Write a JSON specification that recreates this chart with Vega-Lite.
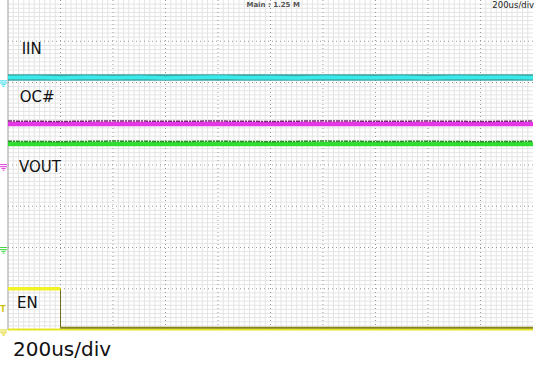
{
  "$schema": "https://vega.github.io/schema/vega-lite/v6.json",
  "width": 525,
  "height": 330,
  "autosize": {"type": "none"},
  "padding": {"left": 8, "top": 0, "right": 1, "bottom": 35},
  "background": "white",
  "config": {"view": {"stroke": null}, "axis": {"labels": false, "ticks": false, "domain": false, "grid": false}},
  "datasets": {
    "minorx": [{"t":0},{"t":0.1},{"t":0.2},{"t":0.3},{"t":0.4},{"t":0.5},{"t":0.6},{"t":0.7},{"t":0.8},{"t":0.9},{"t":1.1},{"t":1.2},{"t":1.3},{"t":1.4},{"t":1.5},{"t":1.6},{"t":1.7},{"t":1.8},{"t":1.9},{"t":2.1},{"t":2.2},{"t":2.3},{"t":2.4},{"t":2.5},{"t":2.6},{"t":2.7},{"t":2.8},{"t":2.9},{"t":3.1},{"t":3.2},{"t":3.3},{"t":3.4},{"t":3.5},{"t":3.6},{"t":3.7},{"t":3.8},{"t":3.9},{"t":4.1},{"t":4.2},{"t":4.3},{"t":4.4},{"t":4.5},{"t":4.6},{"t":4.7},{"t":4.8},{"t":4.9},{"t":5.1},{"t":5.2},{"t":5.3},{"t":5.4},{"t":5.5},{"t":5.6},{"t":5.7},{"t":5.8},{"t":5.9},{"t":6.1},{"t":6.2},{"t":6.3},{"t":6.4},{"t":6.5},{"t":6.6},{"t":6.7},{"t":6.8},{"t":6.9},{"t":7.1},{"t":7.2},{"t":7.3},{"t":7.4},{"t":7.5},{"t":7.6},{"t":7.7},{"t":7.8},{"t":7.9},{"t":8.1},{"t":8.2},{"t":8.3},{"t":8.4},{"t":8.5},{"t":8.6},{"t":8.7},{"t":8.8},{"t":8.9},{"t":9.1},{"t":9.2},{"t":9.3},{"t":9.4},{"t":9.5},{"t":9.6},{"t":9.7},{"t":9.8},{"t":9.9}],
    "minory": [{"v":0.1},{"v":0.2},{"v":0.3},{"v":0.4},{"v":0.5},{"v":0.6},{"v":0.7},{"v":0.8},{"v":0.9},{"v":1.1},{"v":1.2},{"v":1.3},{"v":1.4},{"v":1.5},{"v":1.6},{"v":1.7},{"v":1.8},{"v":1.9},{"v":2.1},{"v":2.2},{"v":2.3},{"v":2.4},{"v":2.5},{"v":2.6},{"v":2.7},{"v":2.8},{"v":2.9},{"v":3.1},{"v":3.2},{"v":3.3},{"v":3.4},{"v":3.5},{"v":3.6},{"v":3.7},{"v":3.8},{"v":3.9},{"v":4.1},{"v":4.2},{"v":4.3},{"v":4.4},{"v":4.5},{"v":4.6},{"v":4.7},{"v":4.8},{"v":4.9},{"v":5.1},{"v":5.2},{"v":5.3},{"v":5.4},{"v":5.5},{"v":5.6},{"v":5.7},{"v":5.8},{"v":5.9},{"v":6.1},{"v":6.2},{"v":6.3},{"v":6.4},{"v":6.5},{"v":6.6},{"v":6.7},{"v":6.8},{"v":6.9},{"v":7.1},{"v":7.2},{"v":7.3},{"v":7.4},{"v":7.5},{"v":7.6},{"v":7.7},{"v":7.8},{"v":7.9}],
    "vgrid": [{"t": 1}, {"t": 2}, {"t": 3}, {"t": 4}, {"t": 5}, {"t": 6}, {"t": 7}, {"t": 8}, {"t": 9}],
    "hgrid": [{"v": 1}, {"v": 2}, {"v": 3}, {"v": 4}, {"v": 5}, {"v": 6}, {"v": 7}],
    "traces": [
      {"s": "IIN_base", "t": 0, "v": 6.12}, {"s": "IIN_base", "t": 10, "v": 6.12},
      {"s": "IIN", "t": 0, "v": 6.12}, {"s": "IIN", "t": 0.5, "v": 6.13}, {"s": "IIN", "t": 1, "v": 6.11}, {"s": "IIN", "t": 1.5, "v": 6.125}, {"s": "IIN", "t": 2, "v": 6.115}, {"s": "IIN", "t": 2.5, "v": 6.13}, {"s": "IIN", "t": 3, "v": 6.11}, {"s": "IIN", "t": 3.5, "v": 6.12}, {"s": "IIN", "t": 4, "v": 6.135}, {"s": "IIN", "t": 4.5, "v": 6.115}, {"s": "IIN", "t": 5, "v": 6.12}, {"s": "IIN", "t": 5.5, "v": 6.11}, {"s": "IIN", "t": 6, "v": 6.13}, {"s": "IIN", "t": 6.5, "v": 6.12}, {"s": "IIN", "t": 7, "v": 6.115}, {"s": "IIN", "t": 7.5, "v": 6.13}, {"s": "IIN", "t": 8, "v": 6.11}, {"s": "IIN", "t": 8.5, "v": 6.125}, {"s": "IIN", "t": 9, "v": 6.12}, {"s": "IIN", "t": 9.5, "v": 6.13}, {"s": "IIN", "t": 10, "v": 6.115},
      {"s": "OC_top", "t": 0, "v": 5.065}, {"s": "OC_top", "t": 1, "v": 5.055}, {"s": "OC_top", "t": 2, "v": 5.07}, {"s": "OC_top", "t": 3, "v": 5.06}, {"s": "OC_top", "t": 4, "v": 5.065}, {"s": "OC_top", "t": 5, "v": 5.055}, {"s": "OC_top", "t": 6, "v": 5.07}, {"s": "OC_top", "t": 7, "v": 5.06}, {"s": "OC_top", "t": 8, "v": 5.065}, {"s": "OC_top", "t": 9, "v": 5.055}, {"s": "OC_top", "t": 10, "v": 5.065},
      {"s": "OC", "t": 0, "v": 4.995}, {"s": "OC", "t": 10, "v": 4.995},
      {"s": "VOUT_top", "t": 0, "v": 4.575}, {"s": "VOUT_top", "t": 1, "v": 4.565}, {"s": "VOUT_top", "t": 2, "v": 4.58}, {"s": "VOUT_top", "t": 3, "v": 4.57}, {"s": "VOUT_top", "t": 4, "v": 4.575}, {"s": "VOUT_top", "t": 5, "v": 4.565}, {"s": "VOUT_top", "t": 6, "v": 4.58}, {"s": "VOUT_top", "t": 7, "v": 4.57}, {"s": "VOUT_top", "t": 8, "v": 4.575}, {"s": "VOUT_top", "t": 9, "v": 4.565}, {"s": "VOUT_top", "t": 10, "v": 4.575},
      {"s": "VOUT", "t": 0, "v": 4.51}, {"s": "VOUT", "t": 10, "v": 4.51},
      {"s": "EN_high", "t": 0, "v": 1.0}, {"s": "EN_high", "t": 1.0, "v": 1.0},
      {"s": "EN_edge", "t": 1.0, "v": 1.0}, {"s": "EN_edge", "t": 1.0, "v": 0.055},
      {"s": "EN_low", "t": 1.0, "v": 0.055}, {"s": "EN_low", "t": 10, "v": 0.055},
      {"s": "EN_base", "t": 0, "v": 0.012}, {"s": "EN_base", "t": 10, "v": 0.012}
    ],
    "labels": [
      {"text": "IIN", "t": 0.26, "v": 6.684},
      {"text": "OC#", "t": 0.225, "v": 5.535},
      {"text": "VOUT", "t": 0.21, "v": 3.84},
      {"text": "EN", "t": 0.17, "v": 0.533}
    ],
    "markers": [
      {"ch": "IIN", "t": -0.085, "v": 5.98},
      {"ch": "OC#", "t": -0.085, "v": 3.95},
      {"ch": "VOUT", "t": -0.085, "v": 1.94},
      {"ch": "EN", "t": -0.085, "v": -0.06}
    ]
  },
  "layer": [
    {
      "data": {"name": "minorx"},
      "mark": {"type": "rule", "color": "#e4e4e4", "strokeWidth": 1},
      "encoding": {"x": {"field": "t", "type": "quantitative", "axis": null, "scale": {"domain": [0, 10], "nice": false, "zero": false}}}
    },
    {
      "data": {"name": "minory"},
      "mark": {"type": "rule", "color": "#e4e4e4", "strokeWidth": 1},
      "encoding": {"y": {"field": "v", "type": "quantitative", "axis": null, "scale": {"domain": [0, 8], "nice": false, "zero": false}}}
    },
    {
      "data": {"name": "vgrid"},
      "mark": {"type": "rule", "color": "#9a9a9a", "strokeDash": [1, 3], "strokeWidth": 1},
      "encoding": {"x": {"field": "t", "type": "quantitative", "axis": null}}
    },
    {
      "data": {"name": "hgrid"},
      "mark": {"type": "rule", "color": "#9a9a9a", "strokeDash": [1, 3], "strokeWidth": 1},
      "encoding": {"y": {"field": "v", "type": "quantitative", "axis": null}}
    },
    {
      "data": {"values": [{"t": 0}]},
      "mark": {"type": "rule", "color": "#a8a8a8", "strokeWidth": 1},
      "encoding": {"x": {"field": "t", "type": "quantitative", "axis": null}}
    },
    {
      "data": {"name": "traces"},
      "transform": [{"filter": "datum.s === 'IIN_base'"}],
      "mark": {"type": "line", "color": "#1a9a9a", "strokeWidth": 6.5, "opacity": 0.85},
      "encoding": {"x": {"field": "t", "type": "quantitative", "axis": null}, "y": {"field": "v", "type": "quantitative", "axis": null}}
    },
    {
      "data": {"name": "traces"},
      "transform": [{"filter": "datum.s === 'IIN'"}],
      "mark": {"type": "line", "color": "#38eaea", "strokeWidth": 3.5},
      "encoding": {"x": {"field": "t", "type": "quantitative", "axis": null}, "y": {"field": "v", "type": "quantitative", "axis": null}}
    },
    {
      "data": {"name": "traces"},
      "transform": [{"filter": "datum.s === 'OC'"}],
      "mark": {"type": "line", "color": "#e436e4", "strokeWidth": 4.5},
      "encoding": {"x": {"field": "t", "type": "quantitative", "axis": null}, "y": {"field": "v", "type": "quantitative", "axis": null}}
    },
    {
      "data": {"name": "traces"},
      "transform": [{"filter": "datum.s === 'OC_top'"}],
      "mark": {"type": "line", "color": "#7a2a72", "strokeWidth": 1.5, "strokeDash": [4, 1, 2, 1]},
      "encoding": {"x": {"field": "t", "type": "quantitative", "axis": null}, "y": {"field": "v", "type": "quantitative", "axis": null}}
    },
    {
      "data": {"name": "traces"},
      "transform": [{"filter": "datum.s === 'VOUT'"}],
      "mark": {"type": "line", "color": "#30dd30", "strokeWidth": 4.5},
      "encoding": {"x": {"field": "t", "type": "quantitative", "axis": null}, "y": {"field": "v", "type": "quantitative", "axis": null}}
    },
    {
      "data": {"name": "traces"},
      "transform": [{"filter": "datum.s === 'VOUT_top'"}],
      "mark": {"type": "line", "color": "#2a8a2a", "strokeWidth": 1.5, "strokeDash": [4, 1, 2, 1]},
      "encoding": {"x": {"field": "t", "type": "quantitative", "axis": null}, "y": {"field": "v", "type": "quantitative", "axis": null}}
    },
    {
      "data": {"name": "traces"},
      "transform": [{"filter": "datum.s === 'EN_base'"}],
      "mark": {"type": "line", "color": "#e6e61e", "strokeWidth": 2},
      "encoding": {"x": {"field": "t", "type": "quantitative", "axis": null}, "y": {"field": "v", "type": "quantitative", "axis": null}}
    },
    {
      "data": {"name": "traces"},
      "transform": [{"filter": "datum.s === 'EN_low'"}],
      "mark": {"type": "line", "color": "#84841e", "strokeWidth": 2},
      "encoding": {"x": {"field": "t", "type": "quantitative", "axis": null}, "y": {"field": "v", "type": "quantitative", "axis": null}}
    },
    {
      "data": {"name": "traces"},
      "transform": [{"filter": "datum.s === 'EN_edge'"}],
      "mark": {"type": "line", "color": "#6e6e1e", "strokeWidth": 1},
      "encoding": {"x": {"field": "t", "type": "quantitative", "axis": null}, "y": {"field": "v", "type": "quantitative", "axis": null}}
    },
    {
      "data": {"name": "traces"},
      "transform": [{"filter": "datum.s === 'EN_high'"}],
      "mark": {"type": "line", "color": "#f2f226", "strokeWidth": 3.5},
      "encoding": {"x": {"field": "t", "type": "quantitative", "axis": null}, "y": {"field": "v", "type": "quantitative", "axis": null}}
    },
    {
      "data": {"name": "labels"},
      "mark": {"type": "text", "font": "DejaVu Sans", "fontSize": 15, "align": "left", "baseline": "alphabetic", "color": "#111111"},
      "encoding": {"x": {"field": "t", "type": "quantitative", "axis": null}, "y": {"field": "v", "type": "quantitative", "axis": null}, "text": {"field": "text"}}
    },
    {
      "data": {"values": [{"text": "200us/div", "t": 0.095, "v": -0.642}]},
      "mark": {"type": "text", "font": "DejaVu Sans", "fontSize": 20, "align": "left", "baseline": "alphabetic", "color": "#111111"},
      "encoding": {"x": {"field": "t", "type": "quantitative", "axis": null}, "y": {"field": "v", "type": "quantitative", "axis": null}, "text": {"field": "text"}}
    },
    {
      "data": {"values": [{"text": "Main : 1.25 M", "t": 5.05, "v": 7.835}]},
      "mark": {"type": "text", "font": "DejaVu Sans", "fontSize": 7, "fontWeight": "bold", "align": "center", "baseline": "alphabetic", "color": "#555555"},
      "encoding": {"x": {"field": "t", "type": "quantitative", "axis": null}, "y": {"field": "v", "type": "quantitative", "axis": null}, "text": {"field": "text"}}
    },
    {
      "data": {"values": [{"text": "200us/div", "t": 10.02, "v": 7.8}]},
      "mark": {"type": "text", "font": "DejaVu Sans", "fontSize": 8.5, "align": "right", "baseline": "alphabetic", "color": "#222222"},
      "encoding": {"x": {"field": "t", "type": "quantitative", "axis": null}, "y": {"field": "v", "type": "quantitative", "axis": null}, "text": {"field": "text"}}
    },
    {
      "data": {"name": "markers"},
      "mark": {"type": "point", "filled": false, "strokeWidth": 1, "size": 49, "opacity": 1,
        "shape": "M-1,-0.7L1,-0.7M-1,-0.1L1,-0.1M-0.6,0.4L0.6,0.4M-0.25,0.9L0.25,0.9"},
      "encoding": {
        "x": {"field": "t", "type": "quantitative", "axis": null},
        "y": {"field": "v", "type": "quantitative", "axis": null},
        "color": {"field": "ch", "type": "nominal", "legend": null,
          "scale": {"domain": ["IIN", "OC#", "VOUT", "EN"], "range": ["#30d8e8", "#e040e0", "#40d840", "#e0d820"]}}
      }
    },
    {
      "data": {"values": [{"text": "T", "t": -0.15, "v": 0.48}]},
      "mark": {"type": "text", "font": "DejaVu Sans", "fontSize": 8, "fontWeight": "bold", "align": "left", "baseline": "middle", "color": "#d0c010"},
      "encoding": {"x": {"field": "t", "type": "quantitative", "axis": null}, "y": {"field": "v", "type": "quantitative", "axis": null}, "text": {"field": "text"}}
    }
  ]
}
